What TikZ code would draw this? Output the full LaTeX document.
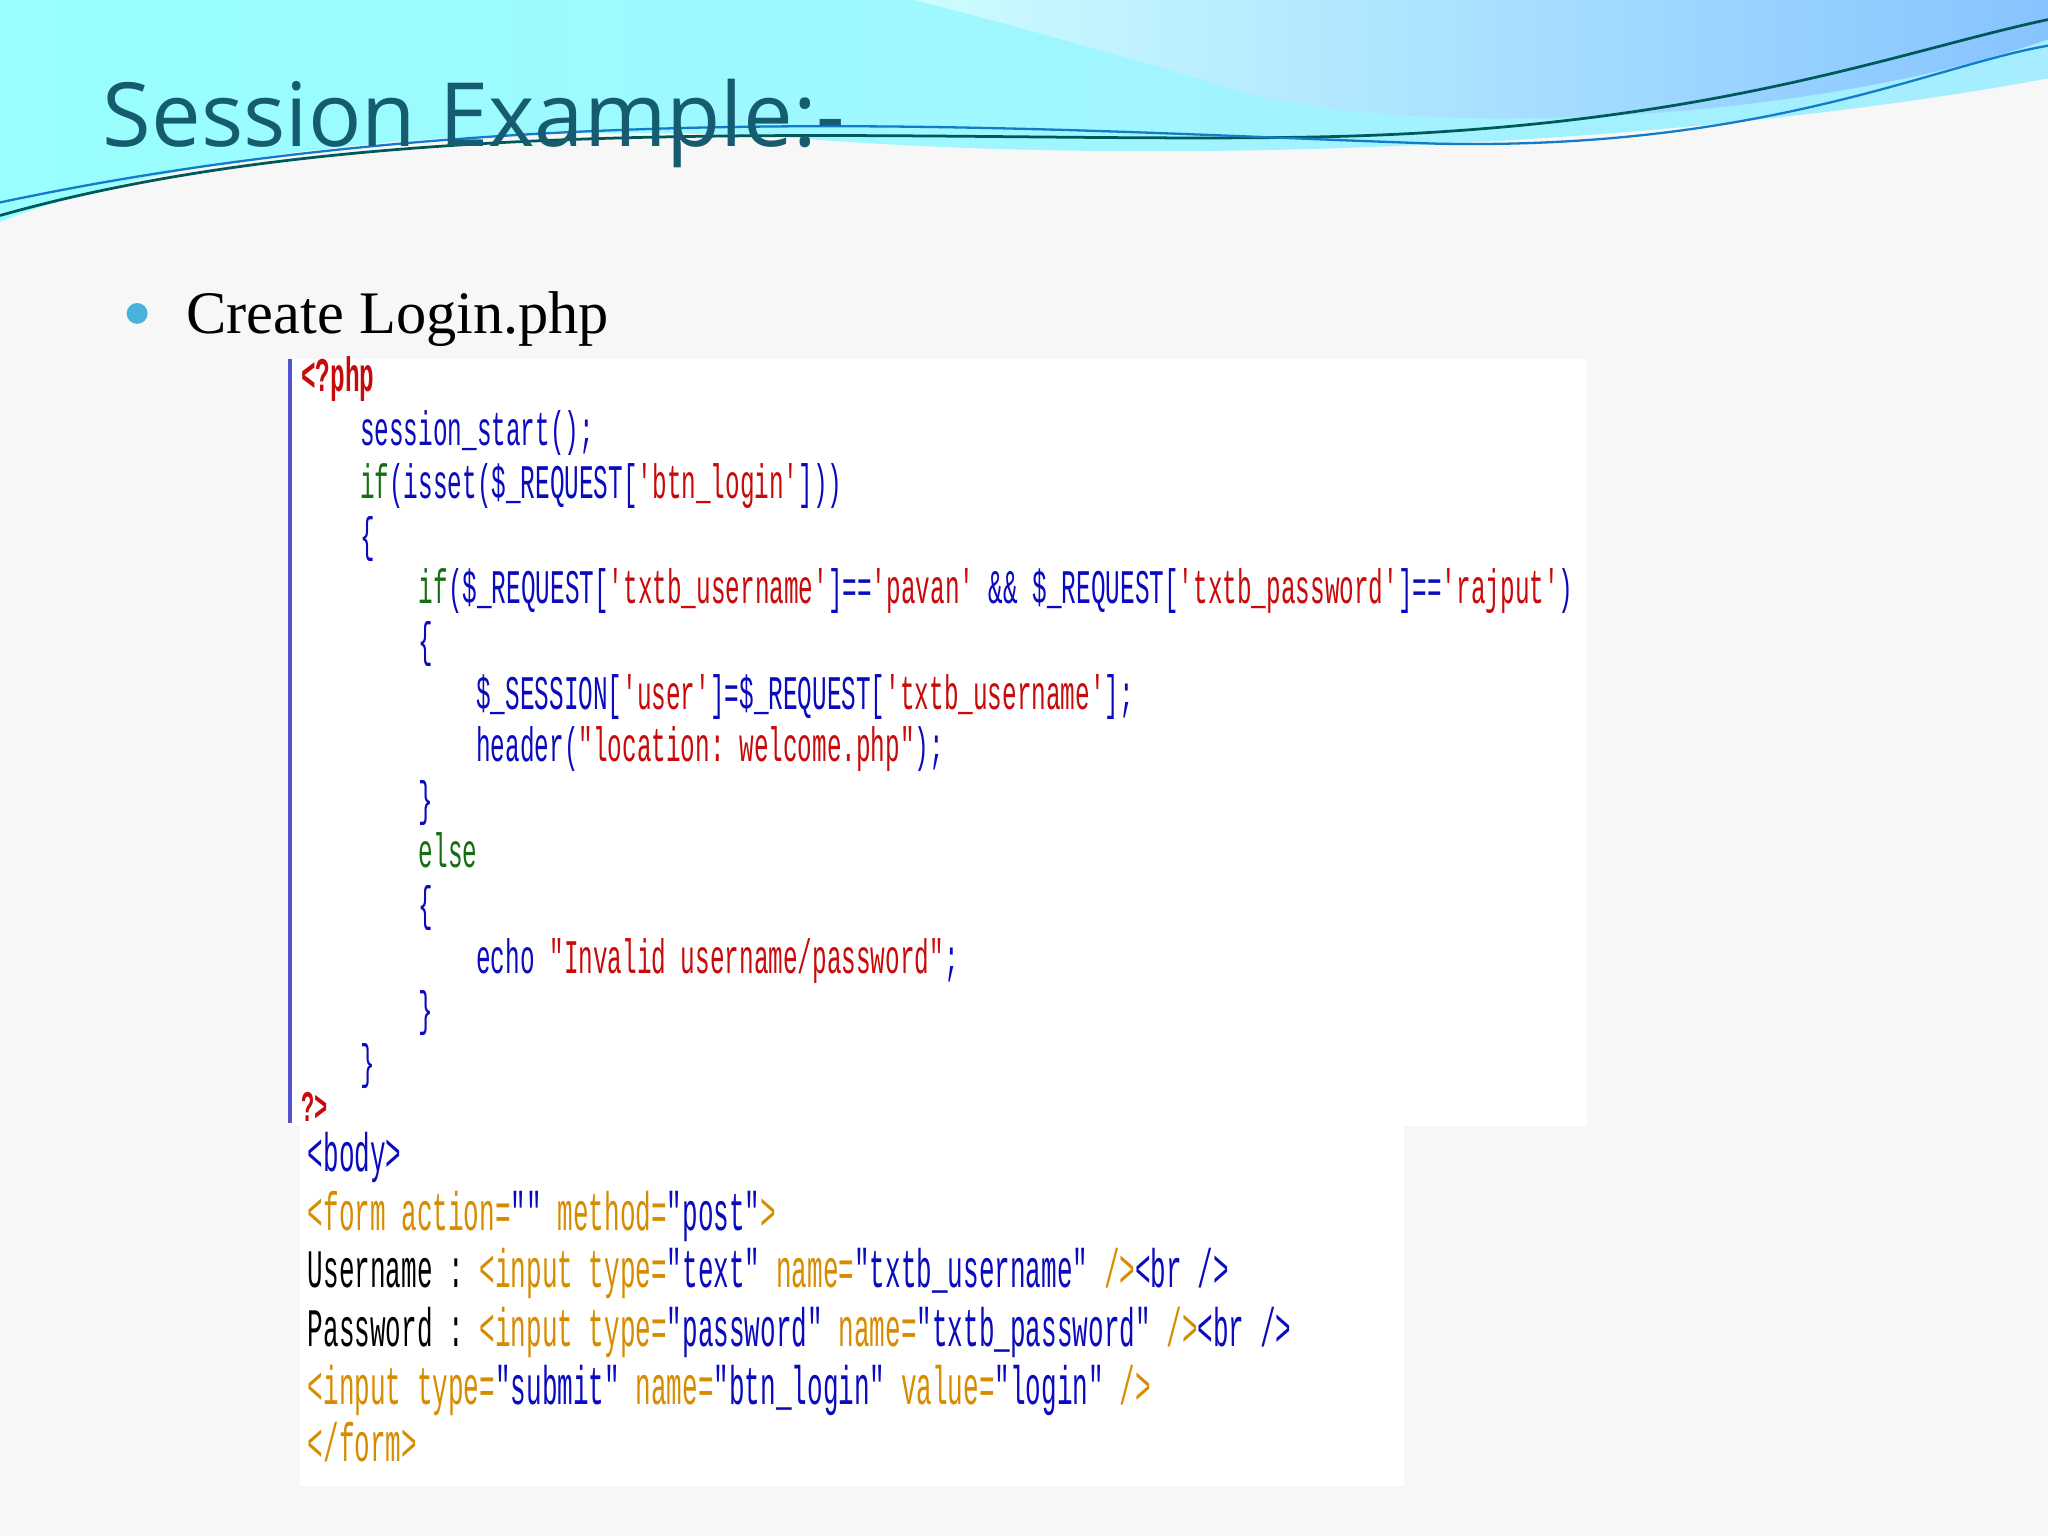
\documentclass[tikz,border=0pt]{standalone}
\usepackage{fontspec}
\setmainfont{Liberation Serif}
\newfontfamily\titlefont{Open Sans}
\newfontfamily\codefont[FakeStretch=0.505]{Liberation Mono}
\newfontfamily\htmlfont[FakeStretch=0.48]{Liberation Mono}
\definecolor{cblue}{RGB}{10,10,190}
\definecolor{cred}{RGB}{200,10,10}
\definecolor{cgreen}{RGB}{20,110,20}
\definecolor{corange}{RGB}{215,140,0}
\definecolor{ttl}{RGB}{22,92,112}
\newcommand{\Bc}[1]{\textcolor{cblue}{#1}}
\newcommand{\Rc}[1]{\textcolor{cred}{#1}}
\newcommand{\Gc}[1]{\textcolor{cgreen}{#1}}
\newcommand{\Oc}[1]{\textcolor{corange}{#1}}
\tikzset{code/.style={anchor=base west,inner sep=0,font=\codefont\fontsize{10.5}{12}\selectfont},
 html/.style={anchor=base west,inner sep=0,font=\htmlfont\fontsize{11.8}{13}\selectfont}}
\begin{document}
\begin{tikzpicture}[x=0.01cm,y=-0.01cm]
\useasboundingbox (0,0) rectangle (1568,1176);
\fill[black!3] (0,0) rectangle (1568,1176);
% waves
\shade[left color=cyan!40!white,right color=blue!20!cyan!35!white] (0,0) -- (1568,0) -- (1568,60) .. controls (1300,110) and (900,130) .. (600,105) .. controls (300,90) and (100,130) .. (0,170) -- cycle;
\shade[left color=cyan!15!white,right color=cyan!45!blue!50!white,opacity=0.8] (700,0) -- (1568,0) -- (1568,30) .. controls (1400,90) and (1100,110) .. (950,70) .. controls (850,40) and (760,15) .. (700,0) -- cycle;
\draw[teal!70!black,line width=0.6] (0,165) .. controls (300,80) and (700,110) .. (1000,105) .. controls (1300,100) and (1450,40) .. (1568,15);
\draw[cyan!60!blue,line width=0.5] (0,155) .. controls (400,70) and (800,100) .. (1100,110) .. controls (1350,115) and (1480,50) .. (1568,35);
\node[anchor=base west,inner sep=0,text=ttl,font=\titlefont\fontsize{19.3}{23}\selectfont] (title) at (78,112) {Session Example:-};
\fill[cyan!70!teal!80!white] (105,240) circle (8);
\node[anchor=base west,inner sep=0,font=\fontsize{13.15}{16}\selectfont] (bul) at (142,255) {Create Login.php};
% code boxes
\fill[white] (222,275) rectangle (1215,862);
\fill[white] (230,862) rectangle (1075,1138);
\draw[cblue!70,line width=0.8] (222,275) -- (222,860);
\node[code,text=cred,font=\codefont\bfseries\fontsize{10.5}{12}\selectfont] (l1) at (230,300) {<?php};
\node[code] (l2) at (275,341) {\Bc{session\_start();}};
\node[code] (l3) at (275,382) {\Gc{if}\Bc{(isset(\$\_REQUEST[}\Rc{'btn\_login'}\Bc{]))}};
\node[code] (l4) at (275,422) {\Bc{\{}};
\node[code] (l5) at (320,462) {\Gc{if}\Bc{(\$\_REQUEST[}\Rc{'txtb\_username'}\Bc{]==}\Rc{'pavan'}\Bc{~\&\&~\$\_REQUEST[}\Rc{'txtb\_password'}\Bc{]==}\Rc{'rajput'}\Bc{)}};
\node[code] (l6) at (320,503) {\Bc{\{}};
\node[code] (l7) at (364,543) {\Bc{\$\_SESSION[}\Rc{'user'}\Bc{]=\$\_REQUEST[}\Rc{'txtb\_username'}\Bc{];}};
\node[code] (l8) at (364,583) {\Bc{header(}\Rc{"location:~welcome.php"}\Bc{);}};
\node[code] (l9) at (320,624) {\Bc{\}}};
\node[code] (l10) at (320,664) {\Gc{else}};
\node[code] (l11) at (320,705) {\Bc{\{}};
\node[code] (l12) at (364,745) {\Bc{echo~}\Rc{"Invalid~username/password"}\Bc{;}};
\node[code] (l13) at (320,785) {\Bc{\}}};
\node[code] (l14) at (275,826) {\Bc{\}}};
\node[code,text=cred,font=\codefont\bfseries\fontsize{9.5}{11}\selectfont] (l15) at (230,859) {?>};
\node[html] (h1) at (235,897) {\Bc{<body>}};
\node[html] (h2) at (235,942) {\Oc{<form~action=}\Bc{""}\Oc{~method=}\Bc{"post"}\Oc{>}};
\node[html] (h3) at (235,986) {Username~:~\Oc{<input~type=}\Bc{"text"}\Oc{~name=}\Bc{"txtb\_username"}\Oc{~/>}\Bc{<br~/>}};
\node[html] (h4) at (235,1031) {Password~:~\Oc{<input~type=}\Bc{"password"}\Oc{~name=}\Bc{"txtb\_password"}\Oc{~/>}\Bc{<br~/>}};
\node[html] (h5) at (235,1075) {\Oc{<input~type=}\Bc{"submit"}\Oc{~name=}\Bc{"btn\_login"}\Oc{~value=}\Bc{"login"}\Oc{~/>}};
\node[html] (h6) at (235,1119) {\Oc{</form>}};
\end{tikzpicture}
\end{document}
